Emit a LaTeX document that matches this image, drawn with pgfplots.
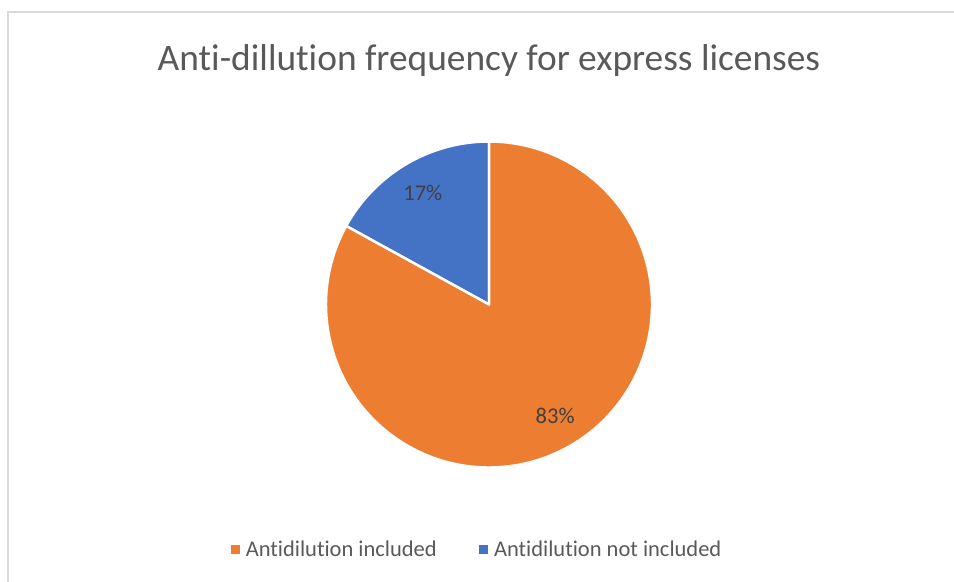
\documentclass[border=0pt]{standalone}
\usepackage{pgfplots}
\usepackage{pgfplotstable}
\pgfplotsset{compat=1.18}
\usetikzlibrary{calc}
\usepackage{fontspec}
\setmainfont{Carlito}[RawFeature={-liga}]
\definecolor{pieorange}{HTML}{ED7D31}
\definecolor{pieblue}{HTML}{4472C4}
\definecolor{txtgray}{HTML}{595959}
\definecolor{lblgray}{HTML}{404040}
\definecolor{framegray}{HTML}{D9D9D9}

\pgfplotstableread{
label value
included 83
notincluded 17
}\piedata

\begin{document}%
\begin{tikzpicture}[trim left=0bp, trim right=954bp]
\pgfplotstablegetelem{0}{value}\of\piedata \let\va\pgfplotsretval
\pgfplotstablegetelem{1}{value}\of\piedata \let\vb\pgfplotsretval
\pgfmathsetmacro\angB{90+3.6*\vb}
\pgfmathsetmacro\midB{(90+\angB)/2}
\pgfmathsetmacro\angA{\angB+3.6*\va}
\pgfmathsetmacro\midA{(\angB+\angA)/2}
\path (0,0) rectangle (954bp,582bp);
\begin{scope}[overlay]
\begin{axis}[
  at={(0,0)}, anchor=south west,
  scale only axis, width=954bp, height=582bp,
  xmin=0, xmax=954, ymin=0, ymax=582,
  hide axis, clip=false,
  legend columns=2,
  legend style={at={(axis cs:476,32.3)}, anchor=center, draw=none, fill=none,
    font=\fontsize{22.5bp}{27bp}\selectfont, text=txtgray,
    /tikz/every even column/.append style={column sep=42bp},
    inner sep=0pt, nodes={inner sep=0pt}},
]
\addlegendimage{legend image code/.code={\fill[pieorange] (0bp,-4bp) rectangle (8bp,4bp); \path[draw=none,fill=none] (0bp,0bp) -- (15bp,0bp);}}
\addlegendentry{Antidilution included}
\addlegendimage{legend image code/.code={\fill[pieblue] (0bp,-4bp) rectangle (8bp,4bp); \path[draw=none,fill=none] (0bp,0bp) -- (15bp,0bp);}}
\addlegendentry{Antidilution not included}

\filldraw[fill=pieblue, draw=white, line width=2.5bp, line join=round]
  (axis cs:489,277.5) -- ++(90:163bp) arc[start angle=90, end angle=\angB, radius=163bp] -- cycle;
\filldraw[fill=pieorange, draw=white, line width=2.5bp, line join=round]
  (axis cs:489,277.5) -- ++(\angB:163bp) arc[start angle=\angB, end angle=\angA, radius=163bp] -- cycle;

\node[text=lblgray, font=\fontsize{22.5bp}{27bp}\selectfont] at ($(axis cs:489,277.5)+(\midB:130bp)$) {\pgfmathprintnumber[fixed,precision=0,assume math mode=true]{\vb}\%};
\node[text=lblgray, font=\fontsize{22.5bp}{27bp}\selectfont] at ($(axis cs:489,277.5)+(\midA:130bp)$) {\pgfmathprintnumber[fixed,precision=0,assume math mode=true]{\va}\%};

\node[anchor=base, text=txtgray, font=\fontsize{37.4bp}{45bp}\selectfont] at (axis cs:489,511) {Anti-dillution frequency for express licenses};
\end{axis}
\draw[framegray, line width=1.5bp] (8bp,0bp) -- (8bp,570bp) -- (954bp,570bp);
\end{scope}
\end{tikzpicture}%
\end{document}
